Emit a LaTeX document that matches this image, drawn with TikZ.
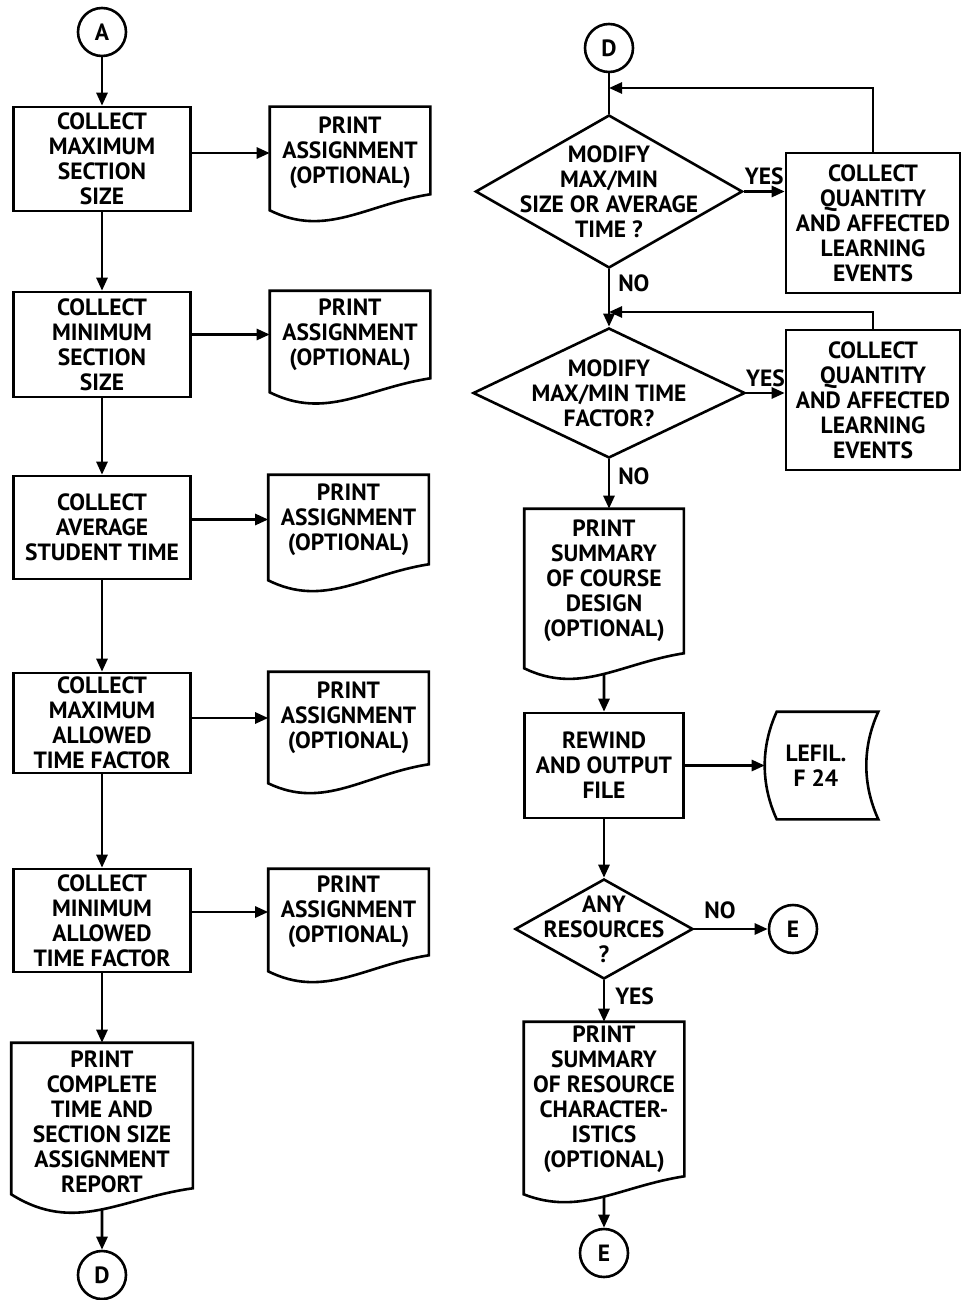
\documentclass[tikz,border=0pt]{standalone}
\usepackage{fontspec}
\setmainfont{PT Sans}
\usetikzlibrary{arrows.meta,shapes.geometric,calc}
\begin{document}
\begin{tikzpicture}[x=1pt,y=-1pt,line width=2.6pt,
				every node/.style={align=center,inner sep=0pt,font=\bfseries\fontsize{23.5}{25}\selectfont},
				box/.style={draw,rectangle,minimum width=177pt,minimum height=104pt},
				doc/.style={rectangle,minimum width=158pt},
				decision/.style={draw,diamond},
				conn/.style={draw,circle,minimum size=48pt},
				arr/.style={-{Triangle[length=13pt,width=11pt]}}]
\useasboundingbox (0,0) rectangle (962,1300);
\node[conn] (A) at (102,32) {A};
\node[box] (c1) at (102,159) {COLLECT\\MAXIMUM\\SECTION\\SIZE};
\node[box,minimum height=105pt] (c2) at (102,344.5) {COLLECT\\MINIMUM\\SECTION\\SIZE};
\node[box,minimum height=103pt] (c3) at (102,527.5) {COLLECT\\AVERAGE\\STUDENT TIME};
\node[box,minimum height=100pt] (c4) at (102,723) {COLLECT\\MAXIMUM\\ALLOWED\\TIME FACTOR};
\node[box,minimum height=103pt] (c5) at (102,920.5) {COLLECT\\MINIMUM\\ALLOWED\\TIME FACTOR};
\node[doc,minimum height=90pt] (p1) at (350,153) {PRINT\\ASSIGNMENT\\(OPTIONAL)};
\node[doc,minimum height=85pt] (p2) at (350,334.5) {PRINT\\ASSIGNMENT\\(OPTIONAL)};
\node[doc,minimum height=87pt] (p3) at (348.5,519.5) {PRINT\\ASSIGNMENT\\(OPTIONAL)};
\node[doc,minimum height=90pt] (p4) at (348.5,718) {PRINT\\ASSIGNMENT\\(OPTIONAL)};
\node[doc,minimum height=84pt] (p5) at (348.5,912) {PRINT\\ASSIGNMENT\\(OPTIONAL)};
\node[doc,minimum width=179pt,minimum height=156pt] (p6) at (102,1122) {PRINT\\COMPLETE\\TIME AND\\SECTION SIZE\\ASSIGNMENT\\REPORT};
\node[conn] (D1) at (102,1275) {D};
\node[conn] (D2) at (609,48) {D};
\coordinate (j1) at (609,88);
\node[decision,minimum width=267pt,minimum height=153pt,
	label=center:{MODIFY\\MAX/MIN\\SIZE OR AVERAGE\\TIME ?}] (q1) at (609,191.5) {};
\node[box,minimum width=174pt,minimum height=140pt] (r1) at (873,223) {COLLECT\\QUANTITY\\AND AFFECTED\\LEARNING\\EVENTS};
\coordinate (j2) at (609,312);
\node[decision,minimum width=272pt,minimum height=130pt,
	label=center:{MODIFY\\MAX/MIN TIME\\FACTOR?}] (q2) at (609,393) {};
\node[box,minimum width=174pt,minimum height=140pt] (r2) at (873,400) {COLLECT\\QUANTITY\\AND AFFECTED\\LEARNING\\EVENTS};
\node[doc,minimum width=157pt,minimum height=142pt] (p7) at (604,581) {PRINT\\SUMMARY\\OF COURSE\\DESIGN\\(OPTIONAL)};
\node[box,minimum width=159pt,minimum height=105pt] (w) at (604,765.5) {REWIND\\AND OUTPUT\\FILE};
\node[rectangle,minimum width=100pt,minimum height=105pt] (f) at (816,765.5) {LEFIL.\\F 24};
\node[decision,minimum width=178pt,minimum height=100pt,
	label=center:{ANY\\RESOURCES\\?}] (q3) at (604,929) {};
\node[conn] (E1) at (793,929) {E};
\node[doc,minimum height=152pt] (p8) at (604,1099) {PRINT\\SUMMARY\\OF RESOURCE\\CHARACTER-\\ISTICS\\(OPTIONAL)};
\node[conn] (E2) at (604,1253) {E};
\foreach \n/\r/\d/\e in {p1/5/16/44,p2/0/14/42,p3/0/16/44,p4/0/19/46,p5/0/16/44,p6/13/6/46,p7/0/15/42,p8/0/18/40}
	\draw (\n.north west) -- (\n.north east) -- ($(\n.south east)+(0,-\r)$)
		.. controls ($(\n.south east)!0.4!(\n.south west)+(0,{10-\r})$) and ($(\n.south east)!0.65!(\n.south west)+(0,{\e-\r})$)
		.. ($(\n.south west)+(0,{\d-\r})$) coordinate[pos=0.48] (\n-b) -- cycle;
\draw ($(f.north west)+(12,0)$) -- ($(f.north east)+(11,0)$)
	.. controls ($(f.north east)+(-5,35)$) and ($(f.south east)+(-5,-35)$) .. ($(f.south east)+(11,0)$)
	-- ($(f.south west)+(12,0)$)
	.. controls ($(f.south west)+(-4,-35)$) and ($(f.north west)+(-4,35)$) .. cycle;
\draw[arr] (A) -- (c1);
\draw[arr] (c1) -- (c2);
\draw[arr] (c2) -- (c3);
\draw[arr] (c3) -- (c4);
\draw[arr] (c4) -- (c5);
\draw[arr] (c5) -- (p6);
\draw[arr] (p6-b) -- (D1);
\foreach \i in {1,...,5}
	\draw[arr] (c\i.east |- p\i.west) -- (p\i.west);
\draw (D2) -- (q1.north);
\draw[arr] (r1.north) |- (j1);
\draw[arr] (q1.east) -- (q1.east -| r1.west) node[midway,above=5pt] {YES};
\draw[arr] (q1.south) -- (q2.north) node[pos=0.25,right=8pt] {NO};
\draw[arr] (r2.north) |- (j2);
\draw[arr] (q2.east) -- (q2.east -| r2.west) node[midway,above=5pt] {YES};
\draw[arr] (q2.south) -- (q2.south |- p7.north) node[pos=0.35,right=8pt] {NO};
\draw[arr] (p7-b) -- (w);
\draw[arr] (w) -- (f);
\draw[arr] (w) -- (q3);
\draw[arr] (q3) -- (E1) node[pos=0.35,above=9pt] {NO};
\draw[arr] (q3) -- (p8) node[pos=0.39,right=10pt] {YES};
\draw[arr] (p8-b) -- (E2);
\end{tikzpicture}
\end{document}
